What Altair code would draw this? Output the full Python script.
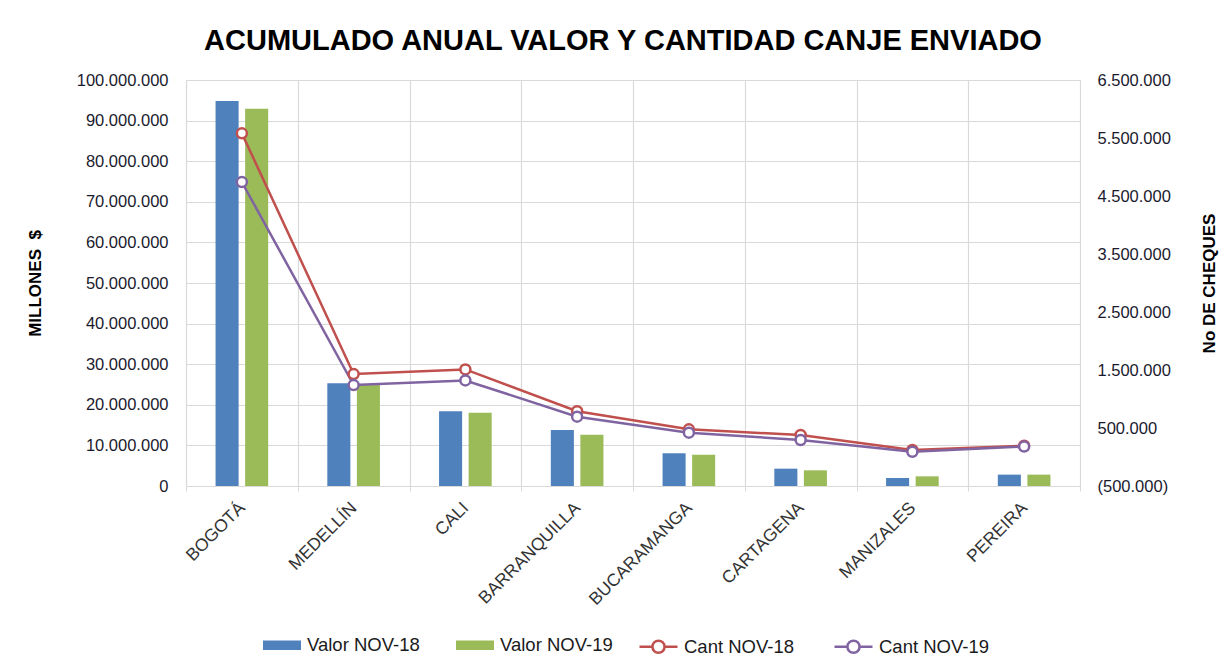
import altair as alt
import pandas as pd

cats = ["BOGOTÁ", "MEDELLÍN", "CALI", "BARRANQUILLA", "BUCARAMANGA", "CARTAGENA", "MANIZALES", "PEREIRA"]
valor_nov18 = [94800000, 25300000, 18400000, 13800000, 8050000, 4270000, 1970000, 2800000]
valor_nov19 = [92900000, 24900000, 18050000, 12600000, 7700000, 3860000, 2380000, 2800000]
cant_nov18 = [5580000, 1430000, 1510000, 790000, 477000, 379000, 121000, 195000]
cant_nov19 = [4740000, 1240000, 1320000, 695000, 420000, 293000, 90000, 180000]

bar_series = ["Valor NOV-18", "Valor NOV-19"]
line_series = ["Cant NOV-18", "Cant NOV-19"]
bar_colors = ["#4F81BD", "#9BBB59"]
line_colors = ["#C0504D", "#8064A2"]
left_ticks = [0, 10000000, 20000000, 30000000, 40000000, 50000000, 60000000, 70000000, 80000000, 90000000, 100000000]
right_ticks = [-500000, 500000, 1500000, 2500000, 3500000, 4500000, 5500000, 6500000]

bars_df = pd.DataFrame(
    [{"cat": c, "serie": bar_series[0], "valor": v} for c, v in zip(cats, valor_nov18)]
    + [{"cat": c, "serie": bar_series[1], "valor": v} for c, v in zip(cats, valor_nov19)]
)
lines_df = pd.DataFrame(
    [{"cat": c, "serie": line_series[0], "cant": v} for c, v in zip(cats, cant_nov18)]
    + [{"cat": c, "serie": line_series[1], "cant": v} for c, v in zip(cats, cant_nov19)]
)

FONT = "Liberation Sans"
GRID = "#d9d9d9"

fmt_left = "replace(format(datum.value, ',d'), regexp(',', 'g'), '.')"
fmt_right = ("datum.value < 0 ? '(' + replace(format(-datum.value, ',d'), regexp(',', 'g'), '.') + ')' "
             ": replace(format(datum.value, ',d'), regexp(',', 'g'), '.')")

x_enc = alt.X(
    "cat:N", sort=cats, title=None,
    scale=alt.Scale(paddingInner=0, paddingOuter=0),
    axis=alt.Axis(
        labelAngle=315, labelAlign="right", labelBaseline="middle", labelPadding=14,
        labelFontSize=17.5, labelColor="#333333", labelFont=FONT,
        grid=True, gridColor=GRID, gridWidth=1.2,
        tickBand="extent", tickExtra=True, tickSize=5, tickColor=GRID,
        domainColor=GRID, domainWidth=1.2,
    ),
)

rect_path = "M-1,-0.25H1V0.25H-1Z"
line_path = "M-1,0H-0.32M0.32,0H1M-0.32,0A0.32,0.32 0 1,1 0.32,0A0.32,0.32 0 1,1 -0.32,0Z"

bar_legend = alt.Legend(
    title=None, orient="none", direction="horizontal", legendX=77, legendY=546,
    labelFontSize=18.5, labelFont=FONT, labelColor="#1a1a1a", labelOffset=6,
    columnPadding=36, symbolSize=1444, symbolType=rect_path, symbolStrokeWidth=0,
    symbolOpacity=1,
)
line_legend = alt.Legend(
    title=None, orient="none", direction="horizontal", legendX=452, legendY=546,
    labelFontSize=18.5, labelFont=FONT, labelColor="#1a1a1a", labelOffset=5,
    columnPadding=34, symbolSize=1444, symbolType=line_path, symbolStrokeWidth=2.5,
    symbolFillColor="white", symbolOpacity=1,
)

bars = alt.Chart(bars_df).mark_bar().encode(
    x=x_enc,
    xOffset=alt.XOffset("serie:N", sort=bar_series,
                        scale=alt.Scale(domain=bar_series, paddingInner=0.22, paddingOuter=1.0)),
    y=alt.Y("valor:Q", title="MILLONES\u00a0\u00a0$",
            scale=alt.Scale(domain=[0, 100000000], nice=False, zero=True),
            axis=alt.Axis(values=left_ticks, labelExpr=fmt_left, grid=True, gridColor=GRID, gridWidth=1.2,
                          domain=False, ticks=False, labelPadding=18, labelFontSize=16.5, labelFont=FONT,
                          labelColor="#1a1a2e", titleFontSize=17, titleFontWeight="bold", titleFont=FONT,
                          titleColor="black", titlePadding=32)),
    fill=alt.Fill("serie:N", scale=alt.Scale(domain=bar_series, range=bar_colors), legend=bar_legend),
)

stroke_scale = alt.Scale(domain=line_series, range=line_colors)
y_right = alt.Y("cant:Q", title="No DE CHEQUES",
                scale=alt.Scale(domain=[-500000, 6500000], nice=False, zero=False),
                axis=alt.Axis(orient="right", values=right_ticks, labelExpr=fmt_right, grid=False,
                              domain=False, ticks=False, labelPadding=17, labelFontSize=16.5, labelFont=FONT,
                              labelColor="#1a1a2e", titleFontSize=17, titleFontWeight="bold", titleFont=FONT,
                              titleColor="black", titlePadding=48, titleAngle=270))

line = alt.Chart(lines_df).mark_line(strokeWidth=2.5).encode(
    x=x_enc,
    y=y_right,
    stroke=alt.Stroke("serie:N", scale=stroke_scale, legend=line_legend),
)

points = alt.Chart(lines_df).mark_point(filled=False, fill="white", size=100, strokeWidth=2.5, opacity=1).encode(
    x=x_enc,
    y=y_right,
    stroke=alt.Stroke("serie:N", scale=stroke_scale, legend=line_legend),
)

right_layer = alt.layer(line, points)

chart = alt.layer(bars, right_layer).resolve_scale(y="independent").properties(
    width=894,
    height=406,
    autosize=alt.AutoSizeParams(type="none"),
    padding={"left": 178, "top": 72, "right": 142, "bottom": 174},
    title=alt.TitleParams(
        "ACUMULADO ANUAL  VALOR Y CANTIDAD CANJE ENVIADO",
        fontSize=29, fontWeight="bold", font=FONT, color="black",
        anchor="middle", offset=16, dx=-10,
    ),
).configure_view(stroke=GRID, fill="#ebebeb").configure(font=FONT, background="white")

chart.save("out.html", embed_options={"renderer": "svg", "actions": False})
